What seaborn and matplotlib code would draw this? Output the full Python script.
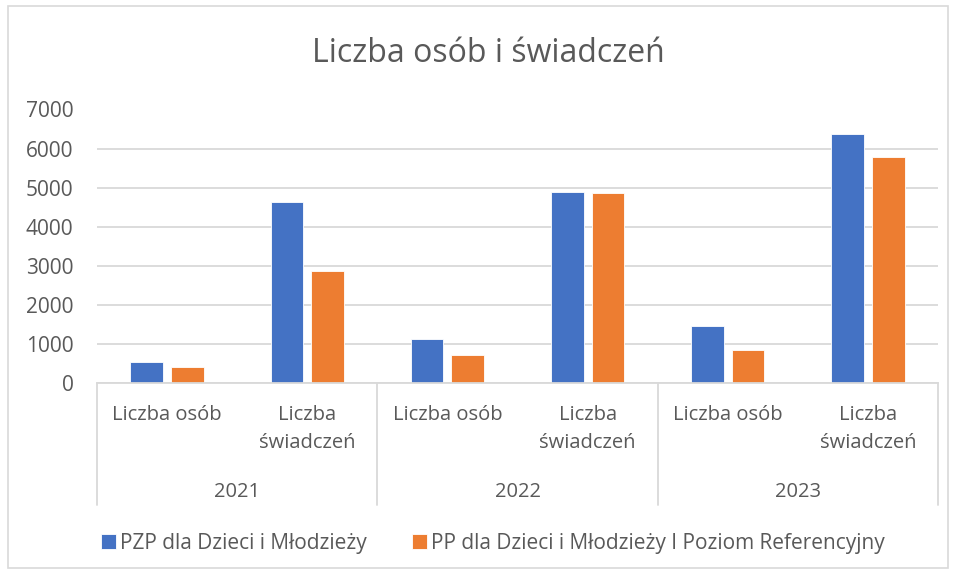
import pandas as pd
import numpy as np
import matplotlib.pyplot as plt
import matplotlib.transforms as mtransforms
from matplotlib.patches import Rectangle
import seaborn as sns

# --- dane ---
lata = ['2021', '2022', '2023']
kategorie = ['Liczba osób', 'Liczba\nświadczeń']
serie = ['PZP dla Dzieci i Młodzieży', 'PP dla Dzieci i Młodzieży I Poziom Referencyjny']
pzp = [530, 4635, 1125, 4890, 1455, 6380]   # osoby/swiadczenia, kolejno lata
pp = [400, 2860, 715, 4855, 850, 5790]
kolory = ['#4472C4', '#ED7D31']

wiersze = []
i = 0
for rok in lata:
    for kat in kategorie:
        wiersze.append({'klucz': rok + ' ' + kat, 'seria': serie[0], 'wartosc': pzp[i]})
        wiersze.append({'klucz': rok + ' ' + kat, 'seria': serie[1], 'wartosc': pp[i]})
        i += 1
df = pd.DataFrame(wiersze)
kolejnosc = [r + ' ' + k for r in lata for k in kategorie]

sns.set_theme(style='white')
plt.rcParams['font.family'] = ['Open Sans', 'DejaVu Sans']
szary = '#595959'
linia = '#D9D9D9'
fs = 14.5

fig = plt.figure(figsize=(9.55, 5.74), dpi=100)
ax = fig.add_axes([97 / 955, 1 - 383 / 574, (938 - 97) / 955, (383 - 109.5) / 574])

sns.barplot(data=df, x='klucz', y='wartosc', hue='seria', order=kolejnosc,
            hue_order=serie, palette=kolory, saturation=1, width=0.58, gap=0.2,
            edgecolor='white', linewidth=0.6, ax=ax, legend=True)

ax.set_ylim(0, 7000)
ax.set_xlim(-0.5, len(kolejnosc) - 0.5)
ax.set_yticks(np.arange(0, 7001, 1000))
ax.yaxis.grid(True, color=linia, linewidth=1.3)
ax.set_axisbelow(True)
for s in ['top', 'right', 'left']:
    ax.spines[s].set_visible(False)
ax.spines['bottom'].set_color(linia)
ax.spines['bottom'].set_linewidth(1.3)
ax.set_xlabel('')
ax.set_ylabel('')
ax.tick_params(axis='y', colors=szary, labelsize=15, length=0, pad=17)
ax.tick_params(axis='x', length=0)
ax.set_xticks(range(len(kolejnosc)))
ax.set_xticklabels([k for r in lata for k in kategorie], color=szary,
                   fontsize=fs, linespacing=1.5, va='top')
ax.tick_params(axis='x', pad=16)

# druga linia osi: lata i separatory
trans = mtransforms.blended_transform_factory(ax.transData, ax.transAxes)
for xs in [-0.5, 1.5, 3.5, 5.5]:
    ax.plot([xs, xs], [0, -0.447], transform=trans, color=linia,
            linewidth=1.3, clip_on=False)
for j, rok in enumerate(lata):
    ax.text(2 * j + 0.5, -0.399, rok, transform=trans, ha='center', va='center',
            color=szary, fontsize=fs)

# legenda
uchwyty, etykiety = ax.get_legend_handles_labels()
ax.get_legend().remove()
fig.legend(uchwyty, etykiety, loc='center', bbox_to_anchor=(493 / 955, 1 - 543 / 574),
           ncol=2, frameon=False, fontsize=15, labelcolor=szary,
           handlelength=0.7, handleheight=0.7, handletextpad=0.2,
           columnspacing=2.2)

fig.text(488 / 955, 1 - 53 / 574, 'Liczba osób i świadczeń', ha='center', va='center',
         color=szary, fontsize=23)

# ramka wykresu
fig.patches.append(Rectangle((8 / 955, 6 / 574), 940 / 955, 562 / 574,
                             transform=fig.transFigure, fill=False,
                             edgecolor=linia, linewidth=1.2))

fig.savefig('out.png', dpi=100)
